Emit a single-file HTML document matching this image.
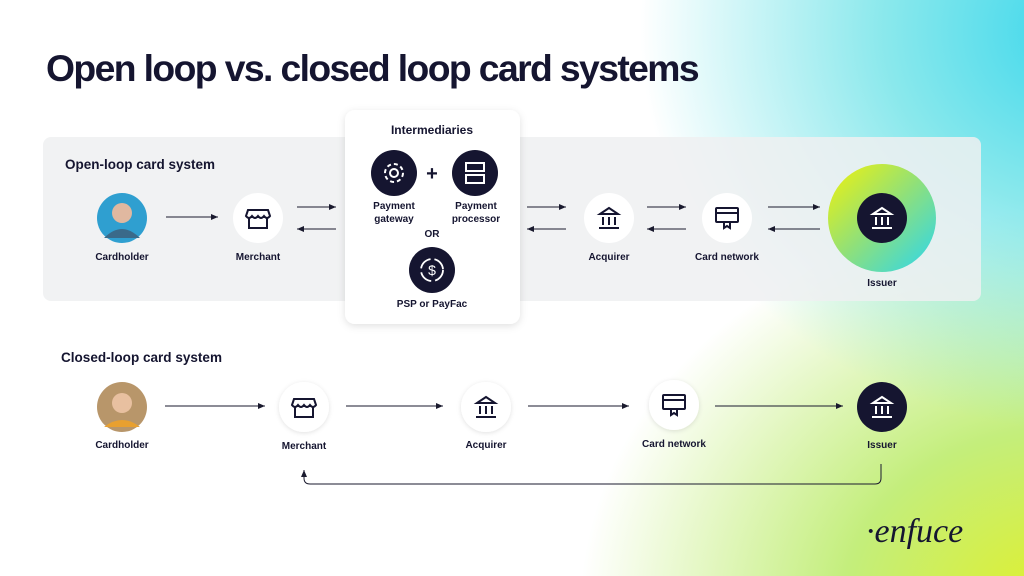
<!DOCTYPE html>
<html><head><meta charset="utf-8"><style>
html,body{margin:0;padding:0}
body{width:1024px;height:576px;overflow:hidden;font-family:"Liberation Sans",sans-serif;position:relative;
background:
radial-gradient(ellipse 440px 400px at 1080px 30px, rgba(60,215,235,1) 0%, rgba(100,225,230,0.75) 45%, rgba(255,255,255,0) 100%),
radial-gradient(ellipse 480px 400px at 1060px 610px, rgba(225,240,40,1) 0%, rgba(185,235,100,0.85) 45%, rgba(255,255,255,0) 100%),
#fff;}
</style></head><body>
<svg width="1024" height="576" viewBox="0 0 1024 576" xmlns="http://www.w3.org/2000/svg" style="position:absolute;left:0;top:0" font-family="Liberation Sans, sans-serif">
<defs>
<marker id="a" markerWidth="8" markerHeight="8" refX="7" refY="4" orient="auto" markerUnits="userSpaceOnUse"><path d="M0,1 L7,4 L0,7 z" fill="#1a1a2e"/></marker>
<linearGradient id="ig" x1="0" y1="0" x2="1" y2="1"><stop offset="0" stop-color="#f2f20a"/><stop offset="0.5" stop-color="#8fe07a"/><stop offset="1" stop-color="#2ad6f0"/></linearGradient>
<filter id="sh" x="-20%" y="-20%" width="140%" height="140%"><feDropShadow dx="0" dy="2" stdDeviation="4" flood-opacity="0.12"/></filter>
<filter id="cs" x="-30%" y="-30%" width="160%" height="160%"><feDropShadow dx="0" dy="1" stdDeviation="2.5" flood-opacity="0.12"/></filter>
<g id="bank"><path d="M-9,-4 L0,-10 L9,-4 Z" fill="none" stroke="currentColor" stroke-width="2"/><line x1="-6" y1="-1" x2="-6" y2="7" stroke="currentColor" stroke-width="2"/><line x1="0" y1="-1" x2="0" y2="7" stroke="currentColor" stroke-width="2"/><line x1="6" y1="-1" x2="6" y2="7" stroke="currentColor" stroke-width="2"/><line x1="-10" y1="10" x2="10" y2="10" stroke="currentColor" stroke-width="2"/></g>
<g id="shop" fill="none" stroke="currentColor" stroke-width="2"><path d="M-10,-8 h20 l2,6 q-3,4 -6,0 q-3,4 -6,0 q-3,4 -6,0 q-3,4 -6,0 z"/><path d="M-9,0 v10 h18 v-10"/></g>
<g id="card" fill="none" stroke="currentColor" stroke-width="2"><rect x="-11" y="-8" width="22" height="14" rx="1"/><line x1="-11" y1="-3" x2="11" y2="-3"/><path d="M-3,6 v6 l3,-2 l3,2 v-6"/></g>
</defs>
<text x="46" y="81" font-size="37" font-weight="bold" fill="#151530" letter-spacing="-1.6" textLength="652" lengthAdjust="spacingAndGlyphs">Open loop vs. closed loop card systems</text>
<rect x="43" y="137" width="938" height="164" rx="8" fill="#eef0f1" fill-opacity="0.85"/>
<text x="65" y="169" font-size="14" font-weight="bold" fill="#151530" textLength="150" lengthAdjust="spacingAndGlyphs">Open-loop card system</text>
<circle cx="122" cy="218" r="25" fill="#2f9fd0"/><circle cx="122" cy="213" r="10" fill="#e0b8a0"/><path d="M104,238 q18,-18 36,0" fill="#3a6a8a"/>
<circle cx="258" cy="218" r="25" fill="#fff"/><use href="#shop" x="258" y="218" color="#151530"/>
<g font-size="10" font-weight="bold" fill="#151530" text-anchor="middle">
<text x="122" y="260">Cardholder</text><text x="258" y="260">Merchant</text>
<text x="609" y="260">Acquirer</text><text x="727" y="260">Card network</text><text x="882" y="286">Issuer</text>
</g>
<g stroke="#1a1a2e" stroke-width="1">
<line x1="166" y1="217" x2="218" y2="217" marker-end="url(#a)"/>
<line x1="297" y1="207" x2="336" y2="207" marker-end="url(#a)"/><line x1="336" y1="229" x2="297" y2="229" marker-end="url(#a)"/>
<line x1="527" y1="207" x2="566" y2="207" marker-end="url(#a)"/><line x1="566" y1="229" x2="527" y2="229" marker-end="url(#a)"/>
<line x1="647" y1="207" x2="686" y2="207" marker-end="url(#a)"/><line x1="686" y1="229" x2="647" y2="229" marker-end="url(#a)"/>
<line x1="768" y1="207" x2="820" y2="207" marker-end="url(#a)"/><line x1="820" y1="229" x2="768" y2="229" marker-end="url(#a)"/>
</g>
<circle cx="609" cy="218" r="25" fill="#fff"/><use href="#bank" x="609" y="218" color="#151530"/>
<circle cx="727" cy="218" r="25" fill="#fff"/><use href="#card" x="727" y="216" color="#151530"/>
<circle cx="882" cy="218" r="54" fill="url(#ig)"/><circle cx="882" cy="218" r="25" fill="#151530"/><use href="#bank" x="882" y="218" color="#fff"/>
<rect x="345" y="110" width="175" height="214" rx="10" fill="#fff" filter="url(#sh)"/>
<g font-weight="bold" fill="#151530" text-anchor="middle">
<text x="432" y="134" font-size="12">Intermediaries</text>
<text x="394" y="209" font-size="10">Payment</text><text x="394" y="222" font-size="10">gateway</text>
<text x="476" y="209" font-size="10">Payment</text><text x="476" y="222" font-size="10">processor</text>
<text x="432" y="237" font-size="10">OR</text>
<text x="432" y="307" font-size="10">PSP or PayFac</text>
<text x="432" y="180" font-size="20">+</text>
</g>
<circle cx="394" cy="173" r="23" fill="#151530"/>
<g stroke="#fff" stroke-width="2" fill="none"><circle cx="394" cy="173" r="4"/><circle cx="394" cy="173" r="9" stroke-dasharray="4 3"/></g>
<circle cx="475" cy="173" r="23" fill="#151530"/>
<g stroke="#fff" stroke-width="2" fill="none"><rect x="466" y="163" width="18" height="8"/><rect x="466" y="175" width="18" height="8"/></g>
<circle cx="432" cy="270" r="23" fill="#151530"/>
<g stroke="#fff" stroke-width="1.8" fill="none"><circle cx="432" cy="270" r="11" stroke-dasharray="14 4"/></g>
<text x="432" y="275" font-size="14" fill="#fff" text-anchor="middle">$</text>
<text x="61" y="362" font-size="14" font-weight="bold" fill="#151530" textLength="161" lengthAdjust="spacingAndGlyphs">Closed-loop card system</text>
<circle cx="122" cy="407" r="25" fill="#b8966a"/><circle cx="122" cy="403" r="10" fill="#e8c0a0"/><path d="M104,427 q18,-14 36,0" fill="#e8a030"/>
<circle cx="304" cy="407" r="25" fill="#fff" filter="url(#cs)"/><use href="#shop" x="304" y="407" color="#151530"/>
<circle cx="486" cy="407" r="25" fill="#fff" filter="url(#cs)"/><use href="#bank" x="486" y="407" color="#151530"/>
<circle cx="674" cy="405" r="25" fill="#fff" filter="url(#cs)"/><use href="#card" x="674" y="403" color="#151530"/>
<circle cx="882" cy="407" r="25" fill="#151530"/><use href="#bank" x="882" y="407" color="#fff"/>
<g font-size="10" font-weight="bold" fill="#151530" text-anchor="middle">
<text x="122" y="448">Cardholder</text><text x="304" y="449">Merchant</text><text x="486" y="448">Acquirer</text><text x="674" y="447">Card network</text><text x="882" y="448">Issuer</text>
</g>
<g stroke="#1a1a2e" stroke-width="1" fill="none">
<line x1="165" y1="406" x2="265" y2="406" marker-end="url(#a)"/>
<line x1="346" y1="406" x2="443" y2="406" marker-end="url(#a)"/>
<line x1="528" y1="406" x2="629" y2="406" marker-end="url(#a)"/>
<line x1="715" y1="406" x2="843" y2="406" marker-end="url(#a)"/>
<path d="M881,464 V478 q0,6 -6,6 H310 q-6,0 -6,-6 V470" marker-end="url(#a)"/>
</g>
<text x="866" y="542" font-size="34" font-style="italic" font-family="Liberation Serif, serif" fill="#151530">·enfuce</text>
</svg>
</body></html>
